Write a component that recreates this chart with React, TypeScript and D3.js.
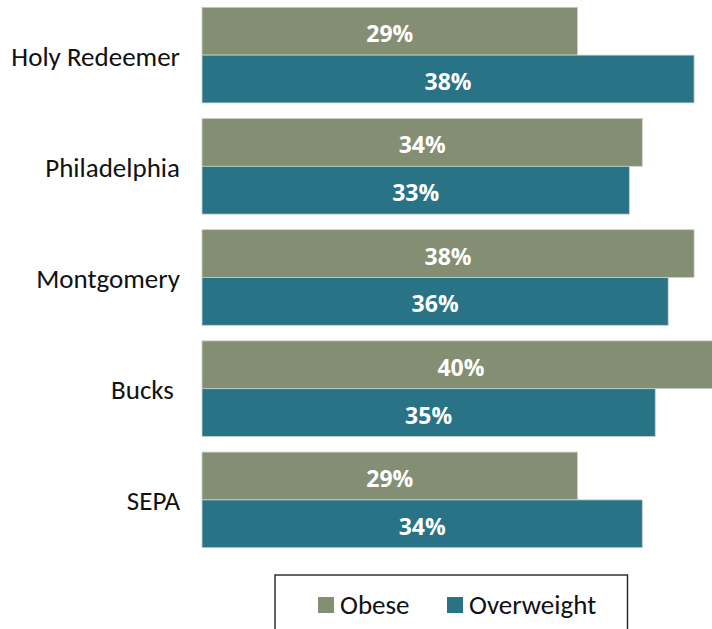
import React from "react";
import * as d3 from "d3";

const categories = ["Holy Redeemer", "Philadelphia", "Montgomery", "Bucks ", "SEPA"];
const seriesNames = ["Obese", "Overweight"];
const obese = [29, 34, 38, 40, 29];
const overweight = [38, 33, 36, 35, 34];
const colors = ["#848E73", "#297387"];

const W = 712;
const H = 629;
const FONT = "Carlito, Lato, 'Open Sans', sans-serif";
const VALUE_FONT = "'Open Sans', sans-serif";

export default function App() {
  const x = d3.scaleLinear().domain([0, 40]).range([202, 720]);
  const y = d3.scaleBand<string>().domain(categories).range([7.3, 547.7]).paddingInner(0.14).paddingOuter(0);
  const sub = d3.scaleBand<string>().domain(seriesNames).range([0, y.bandwidth()]).padding(0);
  const series = [obese, overweight];

  return (
    <div style={{ position: "absolute", left: 0, top: 0, width: W, height: H, overflow: "hidden" }}>
      <svg width={W} height={H} style={{ display: "block", fontFamily: FONT }}>
        <rect width={W} height={H} fill="#ffffff" />
        {categories.map((c, i) => (
          <g key={c}>
            {seriesNames.map((s, j) => {
              const v = series[j][i];
              const by = (y(c) as number) + (sub(s) as number);
              const bw = x(v) - x(0);
              return (
                <g key={s}>
                  <rect x={x(0)} y={by} width={bw} height={sub.bandwidth()} fill={colors[j]} stroke="#c9d2cb" strokeWidth={0.8} />
                  <text
                    x={x(0) + bw / 2}
                    y={by + sub.bandwidth() / 2 + 11}
                    textAnchor="middle"
                    fill="#ffffff"
                    fontWeight="bold"
                    fontSize={23}
                    fontFamily={VALUE_FONT}
                  >
                    {v}%
                  </text>
                </g>
              );
            })}
            <text
              x={180}
              y={(y(c) as number) + y.bandwidth() / 2 + 10.5}
              textAnchor="end"
              fill="#111111"
              fontSize={27}
              xmlSpace="preserve"
              style={{ whiteSpace: "pre" }}
            >
              {c}
            </text>
          </g>
        ))}
        <g>
          <rect x={275} y={575} width={352.5} height={80} fill="#ffffff" stroke="#222222" strokeWidth={1.4} />
          {seriesNames.map((s, j) => {
            const lx = [318, 447][j];
            return (
              <g key={s}>
                <rect x={lx} y={597} width={16} height={16} fill={colors[j]} />
                <text x={lx + 22} y={613.5} fontSize={27} fill="#111111">
                  {s}
                </text>
              </g>
            );
          })}
        </g>
      </svg>
    </div>
  );
}
